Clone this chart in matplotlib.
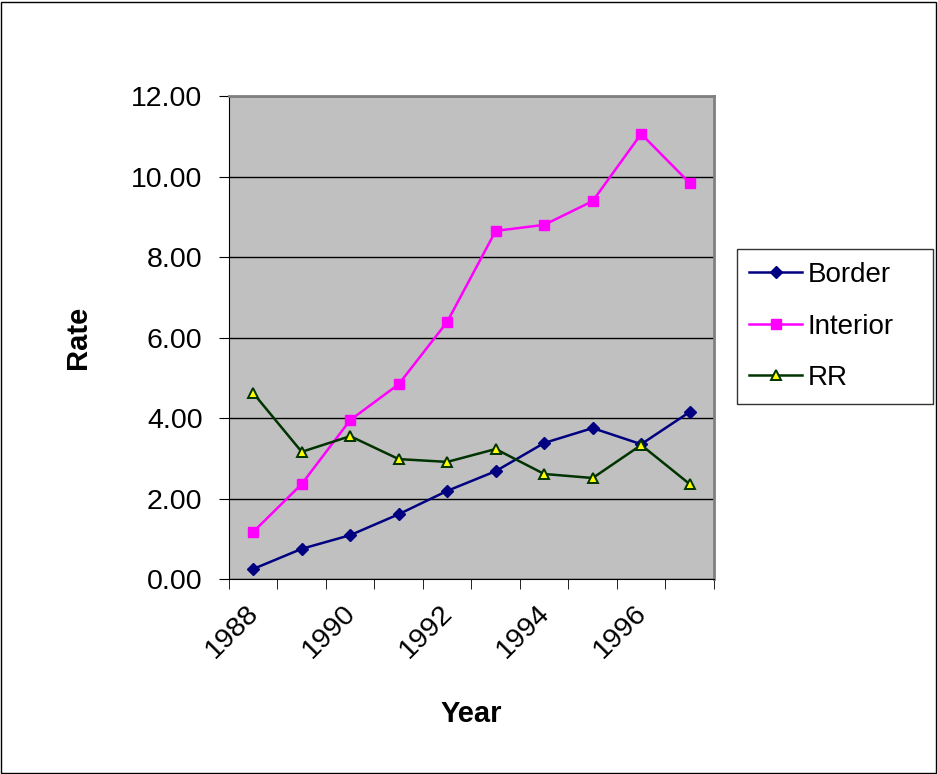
import matplotlib.pyplot as plt
from matplotlib.patches import Rectangle
from matplotlib.transforms import ScaledTranslation

plt.rcParams['font.family'] = ['Liberation Sans', 'DejaVu Sans']

years = [1988, 1989, 1990, 1991, 1992, 1993, 1994, 1995, 1996, 1997]
border = [0.25, 0.75, 1.09, 1.61, 2.19, 2.68, 3.38, 3.75, 3.35, 4.15]
interior = [1.17, 2.36, 3.95, 4.84, 6.39, 8.65, 8.80, 9.39, 11.06, 9.84]
rr = [4.62, 3.16, 3.55, 2.98, 2.91, 3.23, 2.61, 2.51, 3.33, 2.36]

fig = plt.figure(figsize=(9.38, 7.74), dpi=100)
ax = fig.add_axes([0.2441, 0.2519, 0.517, 0.624])
ax.set_facecolor('#C0C0C0')

x = list(range(len(years)))
ax.plot(x, border, color='#000080', lw=1.8, marker='D', ms=6, label='Border')
ax.plot(x, interior, color='#FF00FF', lw=1.8, marker='s', ms=7, label='Interior')
ax.plot(x, rr, color='#003300', lw=1.8, marker='^', ms=7.5, mfc='#FFFF00',
        mec='#003300', mew=1.4, label='RR')

ax.set_xlim(-0.5, len(years) - 0.5)
ax.set_ylim(0, 12)
ax.set_yticks(range(0, 13, 2))
ax.set_yticklabels([f'{v:.2f}' for v in range(0, 13, 2)], fontsize=20.5)
ax.yaxis.grid(True, color='black', lw=1)
ax.set_axisbelow(True)

# category ticks sit between years, labels on every other year
ax.set_xticks([i - 0.5 for i in range(len(years) + 1)], minor=True)
ax.set_xticks(x[::2])
ax.set_xticklabels([str(y) for y in years[::2]], fontsize=20.5, rotation=45,
                   ha='right', va='top', rotation_mode='anchor')
ax.tick_params(axis='x', which='major', length=0, pad=14)
ax.tick_params(axis='x', which='minor', length=7, direction='out', color='black')
ax.tick_params(axis='y', length=7, direction='out', pad=12)

# nudge the slanted year labels a little left and down
shift = ScaledTranslation(-8 / 100, -2 / 100, fig.dpi_scale_trans)
for lbl in ax.get_xticklabels():
    lbl.set_transform(lbl.get_transform() + shift)

for side in ['top', 'right']:
    ax.spines[side].set_color('#808080')
    ax.spines[side].set_linewidth(2)
ax.spines['left'].set_color('black')
ax.spines['bottom'].set_color('black')

ax.set_ylabel('Rate', fontsize=21, fontweight='bold', labelpad=28)
ax.set_xlabel('Year', fontsize=21, fontweight='bold', labelpad=26)

leg = fig.legend(loc='center left', bbox_to_anchor=(0.7857, 0.4767, 0.209, 0.2028),
                 mode='expand', fontsize=20, frameon=True, fancybox=False,
                 edgecolor='black', handlelength=1.9, borderpad=0.45,
                 labelspacing=0.92, handletextpad=0.2, borderaxespad=0)
leg.get_frame().set_linewidth(1)

fig.add_artist(Rectangle((0.001, 0.001), 0.997, 0.997, transform=fig.transFigure,
                         fill=False, edgecolor='black', lw=1))

fig.savefig('out.png', dpi=100)
